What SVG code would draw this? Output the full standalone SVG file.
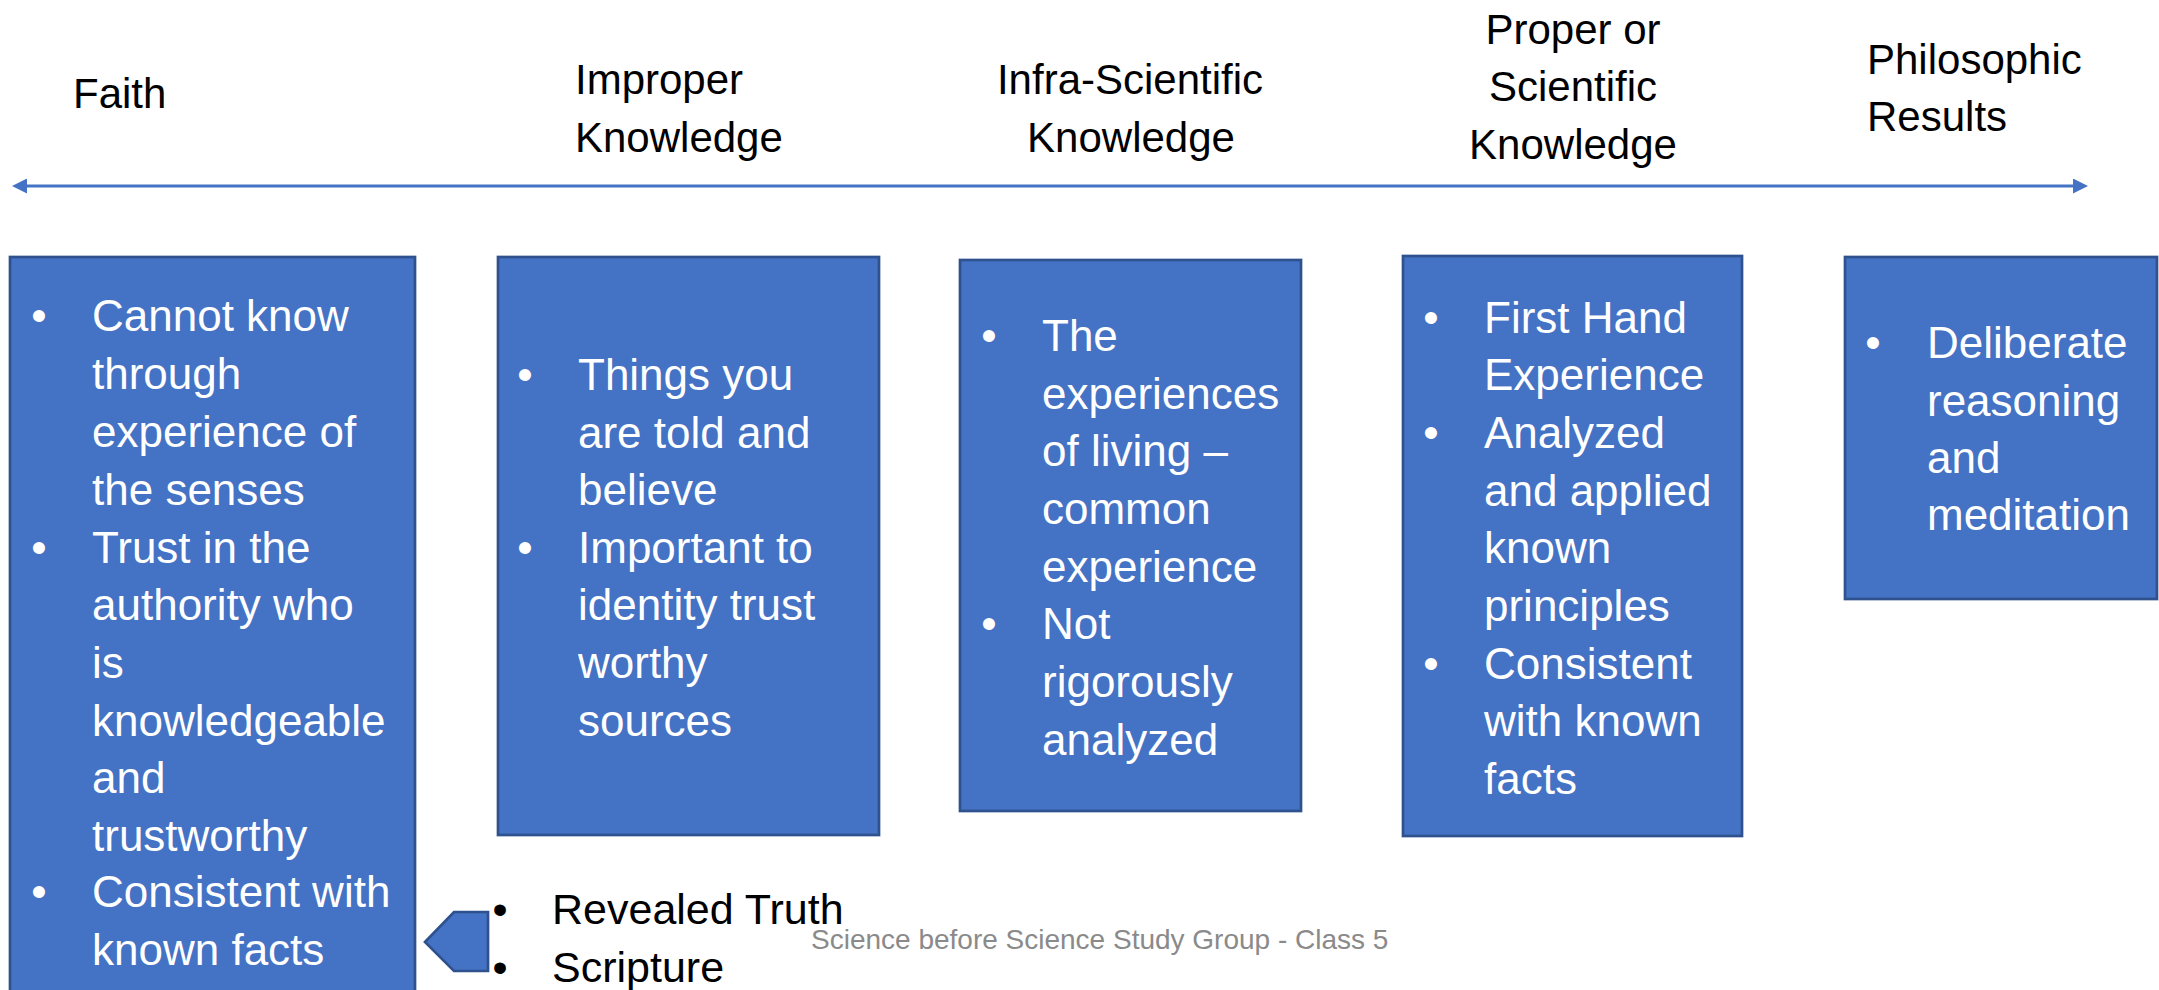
<svg xmlns="http://www.w3.org/2000/svg" width="2159" height="990" viewBox="0 0 2159 990">
  <style>
    .head { font-family: "Liberation Sans", Arial, sans-serif; font-size: 42px; fill: #000; }
    .box { fill: #4472C4; stroke: #2F528F; stroke-width: 2.7; }
    .item { font-family: "Liberation Sans", Arial, sans-serif; font-size: 44px; fill: #fff; }
    .dot { font-family: "Liberation Sans", Arial, sans-serif; font-size: 44px; fill: #fff; text-anchor: middle; }
    .note { font-family: "Liberation Sans", Arial, sans-serif; font-size: 43px; fill: #000; }
    .notedot { font-family: "Liberation Sans", Arial, sans-serif; font-size: 43px; fill: #000; text-anchor: middle; }
    .footer { font-family: "Liberation Sans", Arial, sans-serif; font-size: 28px; fill: #8a8a8a; }
    .timeline { stroke: #4472C4; stroke-width: 3.2; fill: none; }
  </style>
  <defs>
    <marker id="tri" viewBox="0 0 15 15" refX="0" refY="7.5" markerWidth="15" markerHeight="15" markerUnits="userSpaceOnUse" orient="auto-start-reverse">
      <path d="M0,0 L15,7.5 L0,15 z" fill="#4472C4"/>
    </marker>
  </defs>

  <rect width="2159" height="990" fill="#fff"/>

  <!-- stage headings above the timeline -->
  <g id="headings">
    <text class="head" x="73" y="108">Faith</text>
    <text class="head" x="575" y="94">Improper</text>
    <text class="head" x="575" y="152">Knowledge</text>
    <text class="head" x="1130" y="94" text-anchor="middle">Infra-Scientific</text>
    <text class="head" x="1131" y="152" text-anchor="middle">Knowledge</text>
    <text class="head" x="1573" y="44" text-anchor="middle">Proper or</text>
    <text class="head" x="1573" y="101" text-anchor="middle">Scientific</text>
    <text class="head" x="1573" y="159" text-anchor="middle">Knowledge</text>
    <text class="head" x="1867" y="74">Philosophic</text>
    <text class="head" x="1867" y="131">Results</text>
  </g>

  <!-- double-headed timeline -->
  <g id="connectors">
    <line class="timeline" x1="27" y1="186" x2="2073" y2="186" marker-start="url(#tri)" marker-end="url(#tri)"/>
  </g>

  <g id="faith">
    <rect class="box" x="10" y="257" width="405" height="760"/>
    <text class="dot" x="39" y="331">•</text>
    <text class="dot" x="39" y="563">•</text>
    <text class="dot" x="39" y="907">•</text>
    <text class="item" x="92" y="331">Cannot know</text>
    <text class="item" x="92" y="389">through</text>
    <text class="item" x="92" y="447">experience of</text>
    <text class="item" x="92" y="505">the senses</text>
    <text class="item" x="92" y="563">Trust in the</text>
    <text class="item" x="92" y="620">authority who</text>
    <text class="item" x="92" y="678">is</text>
    <text class="item" x="92" y="736">knowledgeable</text>
    <text class="item" x="92" y="793">and</text>
    <text class="item" x="92" y="851">trustworthy</text>
    <text class="item" x="92" y="907">Consistent with</text>
    <text class="item" x="92" y="965">known facts</text>
  </g>

  <g id="improper">
    <rect class="box" x="498" y="257" width="381" height="578"/>
    <text class="dot" x="525" y="390">•</text>
    <text class="dot" x="525" y="563">•</text>
    <text class="item" x="578" y="390">Things you</text>
    <text class="item" x="578" y="448">are told and</text>
    <text class="item" x="578" y="505">believe</text>
    <text class="item" x="578" y="563">Important to</text>
    <text class="item" x="578" y="620">identity trust</text>
    <text class="item" x="578" y="678">worthy</text>
    <text class="item" x="578" y="736">sources</text>
  </g>

  <g id="infra-scientific">
    <rect class="box" x="960" y="260" width="341" height="551"/>
    <text class="dot" x="989" y="351">•</text>
    <text class="dot" x="989" y="639">•</text>
    <text class="item" x="1042" y="351">The</text>
    <text class="item" x="1042" y="409">experiences</text>
    <text class="item" x="1042" y="466">of living –</text>
    <text class="item" x="1042" y="524">common</text>
    <text class="item" x="1042" y="582">experience</text>
    <text class="item" x="1042" y="639">Not</text>
    <text class="item" x="1042" y="697">rigorously</text>
    <text class="item" x="1042" y="755">analyzed</text>
  </g>

  <g id="proper">
    <rect class="box" x="1403" y="256" width="339" height="580"/>
    <text class="dot" x="1431" y="333">•</text>
    <text class="dot" x="1431" y="448">•</text>
    <text class="dot" x="1431" y="679">•</text>
    <text class="item" x="1484" y="333">First Hand</text>
    <text class="item" x="1484" y="390">Experience</text>
    <text class="item" x="1484" y="448">Analyzed</text>
    <text class="item" x="1484" y="506">and applied</text>
    <text class="item" x="1484" y="563">known</text>
    <text class="item" x="1484" y="621">principles</text>
    <text class="item" x="1484" y="679">Consistent</text>
    <text class="item" x="1484" y="736">with known</text>
    <text class="item" x="1484" y="794">facts</text>
  </g>

  <g id="philosophic">
    <rect class="box" x="1845" y="257" width="312" height="342"/>
    <text class="dot" x="1873" y="358">•</text>
    <text class="item" x="1927" y="358">Deliberate</text>
    <text class="item" x="1927" y="416">reasoning</text>
    <text class="item" x="1927" y="473">and</text>
    <text class="item" x="1927" y="530">meditation</text>
  </g>

  <!-- pointer toward Faith with its source list -->
  <g id="sources">
    <polygon class="box" points="425,942 454,912 488,912 488,971 454,971"/>
    <text class="notedot" x="500" y="924">•</text>
    <text class="notedot" x="500" y="982">•</text>
    <text class="note" x="552" y="924">Revealed Truth</text>
    <text class="note" x="552" y="982">Scripture</text>
  </g>

  <g id="footer">
    <text class="footer" x="811" y="949">Science before Science Study Group - Class 5</text>
  </g>
</svg>
